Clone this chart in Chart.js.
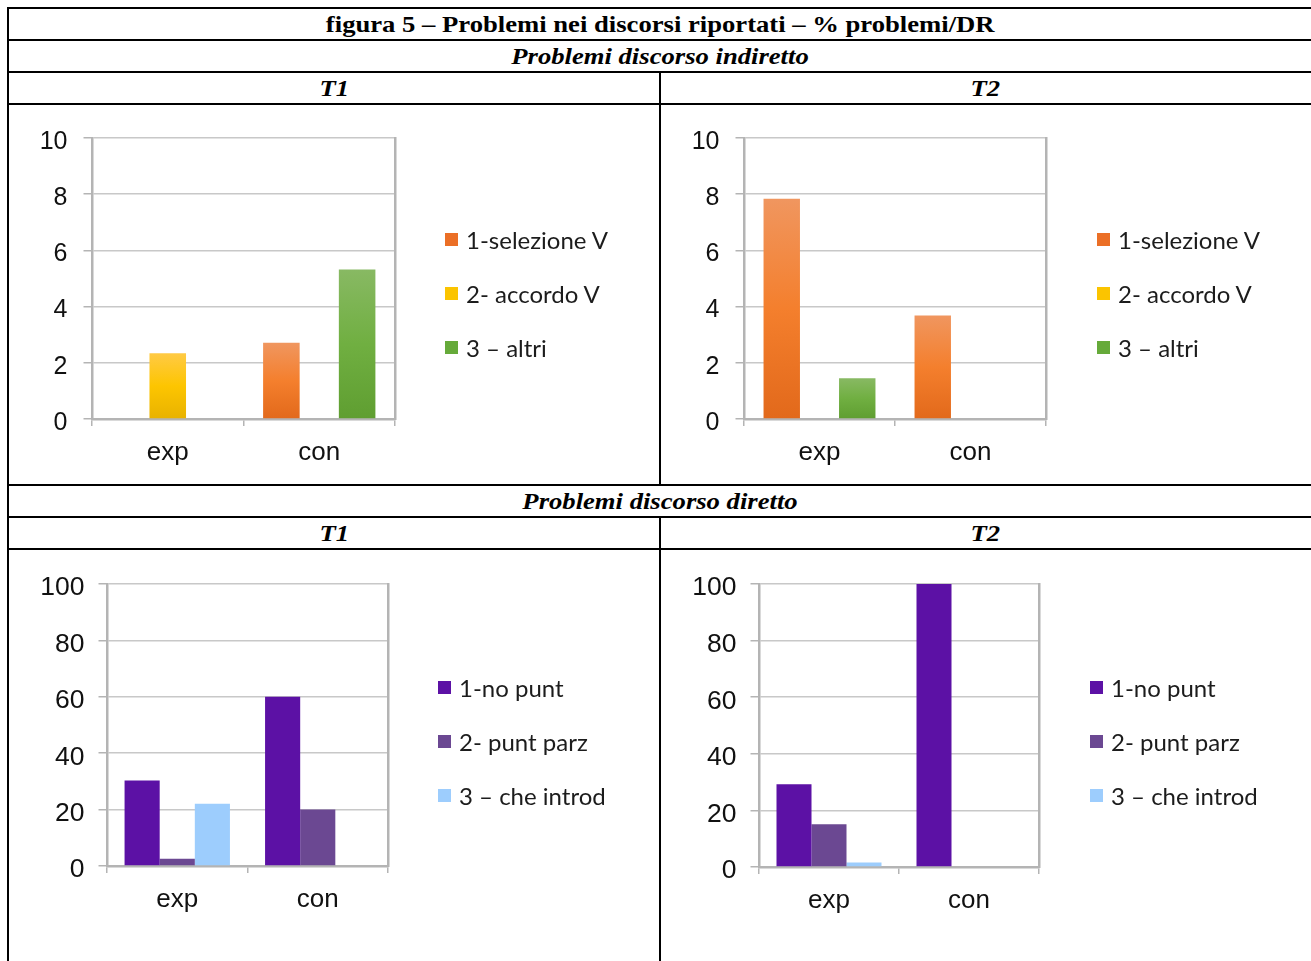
<!DOCTYPE html>
<html lang="it">
<head>
<meta charset="utf-8">
<title>figura 5</title>
<script src="https://cdn.jsdelivr.net/npm/chart.js@4.4.1/dist/chart.umd.min.js"></script>
<style>
  html, body { margin: 0; padding: 0; background: #fff; }
  body { width: 1311px; height: 961px; overflow: hidden; position: relative; }
  .line { position: absolute; background: #000; }
  .row {
    position: absolute; display: flex; align-items: center; justify-content: center;
    font-family: "Liberation Serif", "Times New Roman", serif; font-weight: bold;
    font-size: 24px; color: #000; white-space: nowrap;
  }
  .row span { display: inline-block; transform: scaleX(1.11); }
  .it { font-style: italic; }
  canvas { position: absolute; }
  .legend { position: absolute; font-family: Lato, "Open Sans", sans-serif; font-size: 24px; color: #1c1c1c; }
  .legend .item { display: flex; align-items: center; height: 54px; white-space: nowrap; }
  .legend .swatch { display: inline-block; width: 13px; height: 13px; margin-right: 8px; }
</style>
</head>
<body>

<!-- table rules -->
<div class="line" style="left:7px;top:7px;width:1310px;height:2px"></div>
<div class="line" style="left:7px;top:39px;width:1310px;height:2px"></div>
<div class="line" style="left:7px;top:71px;width:1310px;height:2px"></div>
<div class="line" style="left:7px;top:103px;width:1310px;height:2px"></div>
<div class="line" style="left:7px;top:484px;width:1310px;height:2px"></div>
<div class="line" style="left:7px;top:516px;width:1310px;height:2px"></div>
<div class="line" style="left:7px;top:548px;width:1310px;height:2px"></div>
<div class="line" style="left:7px;top:7px;width:2px;height:960px"></div>
<div class="line" style="left:659px;top:72px;width:2px;height:413px"></div>
<div class="line" style="left:659px;top:517px;width:2px;height:450px"></div>

<!-- headings -->
<div class="row" style="left:8px;top:9px;width:1304px;height:31px"><span>figura 5 – Problemi nei discorsi riportati – % problemi/DR</span></div>
<div class="row it" style="left:8px;top:41px;width:1304px;height:31px"><span>Problemi discorso indiretto</span></div>
<div class="row it" style="left:8px;top:73px;width:652px;height:31px"><span>T1</span></div>
<div class="row it" style="left:660px;top:73px;width:651px;height:31px"><span>T2</span></div>
<div class="row it" style="left:8px;top:486px;width:1304px;height:31px"><span>Problemi discorso diretto</span></div>
<div class="row it" style="left:8px;top:518px;width:652px;height:31px"><span>T1</span></div>
<div class="row it" style="left:660px;top:518px;width:651px;height:31px"><span>T2</span></div>

<canvas id="indT1" width="649" height="378" style="left:10px;top:106px"></canvas>
<canvas id="indT2" width="649" height="378" style="left:662px;top:106px"></canvas>
<canvas id="dirT1" width="649" height="410" style="left:10px;top:551px"></canvas>
<canvas id="dirT2" width="649" height="410" style="left:662px;top:551px"></canvas>

<div class="legend" id="legIndT1" style="left:445px;top:212px"></div>
<div class="legend" id="legIndT2" style="left:1097px;top:212px"></div>
<div class="legend" id="legDirT1" style="left:438px;top:660px"></div>
<div class="legend" id="legDirT2" style="left:1090px;top:660px"></div>

<script>
// Data
const categories = ["exp", "con"];

// Problemi discorso indiretto
const indSeries = ["1-selezione V", "2- accordo V", "3 – altri"];
const indT1Selezione = [0, 2.71];
const indT1Accordo   = [2.34, 0];
const indT1Altri     = [0, 5.32];
const indT2Selezione = [7.84, 3.68];
const indT2Accordo   = [0, 0];
const indT2Altri     = [1.45, 0];
const indTicks = [0, 2, 4, 6, 8, 10];

// Problemi discorso diretto
const dirSeries = ["1-no punt", "2- punt parz", "3 – che introd"];
const dirT1NoPunt    = [30.3, 60];
const dirT1PuntParz  = [2.6, 20];
const dirT1Introd    = [22.1, 0];
const dirT2NoPunt    = [29.2, 100];
const dirT2PuntParz  = [15.1, 0];
const dirT2Introd    = [1.6, 0];
const dirTicks = [0, 20, 40, 60, 80, 100];

// Colours: [top, middle, bottom] of the excel-like gradient, plus legend swatch
const orange = { stops: ["#f0965f", "#f47f2d", "#e2691b"], key: "#eb6f26" };
const yellow = { stops: ["#ffca45", "#fdc500", "#e8b200"], key: "#fbc400" };
const green  = { stops: ["#88b963", "#70af41", "#5f9e31"], key: "#66aa3a" };
const purple     = { key: "#5c11a5" };
const darkPurple = { key: "#6b4892" };
const lightBlue  = { key: "#9dcdfd" };

const gridGray = "#c8c8c8";
const axisGray = "#b4b4b4";
const FRAME_W = 2; // width of the right-hand frame axis

// bar fill: gradient from bar top to the zero line, or plain colour
function barFill(col) {
  if (!col.stops) return col.key;
  return (c) => {
    if (c.type !== "data") return col.key;
    const y = c.chart.scales.y;
    const top = y.getPixelForValue(c.parsed.y);
    const base = y.getPixelForValue(0);
    if (!isFinite(top) || Math.abs(base - top) < 1) return col.stops[1];
    const g = c.chart.ctx.createLinearGradient(0, top, 0, base);
    g.addColorStop(0, col.stops[0]);
    g.addColorStop(0.5, col.stops[1]);
    g.addColorStop(1, col.stops[2]);
    return g;
  };
}

// HTML legend built from the chart's own legend items
const htmlLegend = {
  id: "htmlLegend",
  afterUpdate(chart, args, opts) {
    const box = document.getElementById(opts.containerID);
    if (!box) return;
    box.innerHTML = "";
    const items = chart.options.plugins.legend.labels.generateLabels(chart);
    items.forEach(it => {
      const row = document.createElement("div");
      row.className = "item";
      const sw = document.createElement("span");
      sw.className = "swatch";
      sw.style.background = chart.data.datasets[it.datasetIndex].swatch;
      const tx = document.createElement("span");
      tx.textContent = it.text;
      row.append(sw, tx);
      box.appendChild(row);
    });
  }
};

// Chart factory
// box.plot = [left, top, right, bottom] of the plot area inside the canvas
function createBars(id, legendId, names, values, colors, ticks, box) {
  const el = document.getElementById(id);
  const [pl, pt, pr, pb] = box.plot;
  return new Chart(el, {
    type: "bar",
    data: {
      labels: categories,
      datasets: names.map((n, i) => ({
        label: n,
        data: values[i],
        backgroundColor: barFill(colors[i]),
        swatch: colors[i].key,
        borderWidth: 0,
        barPercentage: box.barPct,
        categoryPercentage: 0.75
      }))
    },
    plugins: [htmlLegend],
    options: {
      responsive: false,
      animation: false,
      devicePixelRatio: 1,
      layout: {
        padding: { left: pl - box.yW, top: pt, right: el.width - pr - FRAME_W, bottom: el.height - pb - box.xH }
      },
      plugins: {
        tooltip: { enabled: false },
        legend: { display: false },
        htmlLegend: { containerID: legendId }
      },
      scales: {
        x: {
          grid: { display: true, drawOnChartArea: false, color: axisGray, tickLength: 7, lineWidth: 1.5 },
          border: { display: true, color: axisGray, width: 2.5 },
          ticks: { color: "#111", padding: 11, font: { family: "Liberation Sans", size: 26 } },
          afterFit: (s) => { s.height = box.xH; }
        },
        y: {
          min: ticks[0],
          max: ticks[ticks.length - 1],
          ticks: {
            stepSize: ticks[1] - ticks[0], color: "#111", padding: box.yPad, labelOffset: 4,
            font: { family: "Liberation Sans", size: box.ySize }
          },
          grid: { color: gridGray, lineWidth: 1.5, tickLength: 8.5, tickColor: axisGray },
          border: { display: true, color: axisGray, width: 2.5 },
          afterFit: (s) => { s.width = box.yW; }
        },
        // right frame of the plot
        y2: {
          position: "right",
          min: 0, max: 1,
          ticks: { display: false },
          grid: { display: false },
          border: { display: true, color: axisGray, width: 2.5 },
          afterFit: (s) => { s.width = FRAME_W; }
        }
      }
    }
  });
}

const indColors = [orange, yellow, green];
const dirColors = [purple, darkPurple, lightBlue];

createBars("indT1", "legIndT1", indSeries, [indT1Selezione, indT1Accordo, indT1Altri], indColors, indTicks,
  { plot: [82, 32, 385, 313], xH: 54, yW: 62, yPad: 16, ySize: 25, barPct: 0.965 });
createBars("indT2", "legIndT2", indSeries, [indT2Selezione, indT2Accordo, indT2Altri], indColors, indTicks,
  { plot: [82, 32, 384, 313], xH: 54, yW: 62, yPad: 16, ySize: 25, barPct: 0.965 });
createBars("dirT1", "legDirT1", dirSeries, [dirT1NoPunt, dirT1PuntParz, dirT1Introd], dirColors, dirTicks,
  { plot: [97, 33, 378, 315], xH: 54, yW: 78, yPad: 14, ySize: 26.5, barPct: 1 });
createBars("dirT2", "legDirT2", dirSeries, [dirT2NoPunt, dirT2PuntParz, dirT2Introd], dirColors, dirTicks,
  { plot: [97, 33, 377, 316], xH: 54, yW: 78, yPad: 14, ySize: 26.5, barPct: 1 });
</script>
</body>
</html>
